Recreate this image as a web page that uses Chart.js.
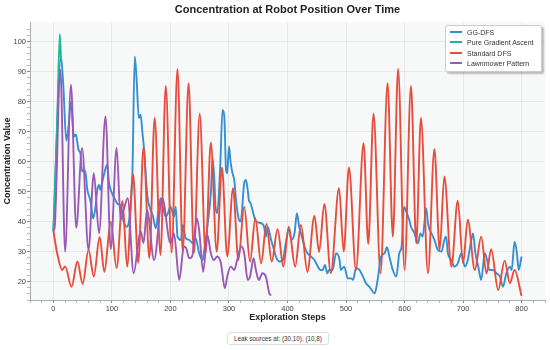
<!DOCTYPE html>
<html>
<head>
<meta charset="utf-8">
<script src="https://cdn.jsdelivr.net/npm/chart.js@4.4.0/dist/chart.umd.min.js"></script>
<style>
  html, body { margin: 0; padding: 0; background: #fff; }
  #wrap { position: relative; width: 550px; height: 350px; font-family: "Liberation Sans", Arial, sans-serif; }
  #legend {
    position: absolute; left: 445px; top: 25px; width: 95px; padding: 2px 0 2px 0;
    background: rgba(255,255,255,0.95); border: 1px solid #ccc; border-radius: 2px;
    box-shadow: 2px 2px 2px rgba(0,0,0,0.25);
  }
  .item { height: 10.3px; line-height: 10.3px; font-size: 7px; color: #333; white-space: nowrap; }
  .swatch { display: inline-block; width: 12px; height: 2px; margin: 0 5px 2px 4px; vertical-align: middle; }
  #note {
    position: absolute; left: 227px; top: 332px; width: 100px; height: 11px; line-height: 11px;
    font-size: 6.3px; color: #333; text-align: center; border: 1px solid #ddd; border-radius: 3px; background: #fff;
  }
</style>
</head>
<body>
<div id="wrap">
  <canvas id="c" width="550" height="350"></canvas>
  <div id="legend"></div>
  <div id="note">Leak sources at: (30,10), (10,8)</div>
</div>
<script>
const seriesNames = ["GG-DFS", "Pure Gradient Ascent", "Standard DFS", "Lawnmower Pattern"];
const seriesColors = ["#3590d3", "#1fb89a", "#e74c3c", "#9b59b6"];

const ggSteps = [0, 13, 17, 22, 26, 30, 35, 38, 39, 43, 46, 49, 52, 55, 58, 63, 68, 72, 75, 78, 80, 83, 87, 90, 92, 95, 100, 104, 109, 115, 120, 126, 129, 132, 135, 139, 142, 146, 149, 152, 155, 158, 161, 166, 170, 175, 179, 183, 188, 192, 196, 200, 206, 209, 212, 218, 221, 226, 232, 238, 243, 249, 255, 257, 263, 269, 272, 275, 277, 280, 285, 289, 292, 295, 297, 300, 303, 306, 309, 312, 317, 320, 326, 329, 332, 334, 337, 343, 346, 355, 360, 363, 366, 372, 377, 380, 386, 392, 397, 403, 406, 412, 416, 420, 426, 429, 434, 440, 446, 452, 456, 460, 464, 468, 471, 477, 483, 489, 491, 497, 503, 509, 512, 517, 523, 529, 534, 540, 549, 554, 560, 566, 570, 574, 580, 586, 591, 595, 599, 603, 608, 611, 617, 623, 627, 631, 637, 640, 643, 646, 651, 657, 663, 668, 671, 674, 680, 685, 691, 697, 703, 708, 714, 717, 721, 726, 731, 737, 741, 745, 751, 757, 763, 768, 774, 780, 783, 788, 792, 795, 800];
const ggValues = [37, 95, 85, 67, 72, 80, 68.4, 69, 68.7, 64, 62.9, 56.8, 57.3, 56.2, 50.7, 47.3, 41.2, 45.1, 50.7, 52.3, 50.7, 52.9, 56.2, 58.4, 59, 53, 49.6, 48, 46.2, 45.1, 40.1, 38.4, 40, 45.1, 56.2, 95.1, 88, 74.6, 75.7, 70, 64, 55, 48, 44, 42, 37.9, 43, 47.9, 44, 41.8, 43, 45.1, 41.8, 45.1, 35.1, 34, 39, 34.6, 34, 32.9, 34.6, 29.6, 27.3, 29.6, 38.4, 49.6, 61.2, 54, 45.1, 42.9, 58.4, 77.3, 75.1, 57.3, 56.2, 65.1, 59.6, 56.2, 54, 47.3, 40.7, 40.1, 52.9, 54, 50.7, 47.3, 46.2, 41.8, 40.1, 39.6, 38.4, 35.1, 38.4, 34, 30.7, 28.5, 26.8, 27.3, 32.9, 37.9, 34, 36.2, 42.9, 38.4, 34, 31.8, 29.6, 28.5, 27.3, 25.1, 24, 24, 25.7, 22.9, 24, 24, 29.6, 27.3, 24, 25.1, 21.2, 21.2, 20.7, 24.6, 24, 21.8, 19.6, 18.4, 16.2, 20.7, 28.5, 29.6, 31.6, 28.5, 24, 21.8, 29.6, 31.8, 45.1, 43.4, 40.7, 38.4, 36.2, 32.9, 36.2, 35.1, 44.6, 39.6, 37.3, 36.2, 34, 30.7, 30.1, 34, 35.1, 29.6, 27.3, 25.1, 26.2, 29.6, 25.1, 27.3, 34, 36.2, 29.6, 25.1, 20.7, 29.6, 27.3, 24, 24, 22.9, 21.8, 18.4, 22.9, 25.1, 24, 33.4, 29.6, 24, 28.5];

const pgaSteps = [0, 6, 11, 13];
const pgaValues = [37, 70, 102.5, 94];

const dfsSteps = [0, 6, 15, 20, 31, 41, 50, 60, 69, 79, 87, 98, 108, 118, 126, 136, 145, 154, 164, 173, 183, 192, 202, 212, 221, 231, 240, 250, 260, 269, 279, 288, 297, 307, 316, 326, 336, 345, 355, 364, 373, 383, 393, 402, 413, 423, 434, 446, 454, 463, 474, 488, 496, 505, 517, 530, 538, 547, 559, 571, 580, 589, 600, 611, 620, 628, 640, 651, 660, 668, 680, 691, 700, 708, 720, 731, 740, 748, 760, 771, 780, 788, 800];
const dfsValues = [37, 30, 24, 25.2, 18.4, 26.8, 19.3, 30.7, 21.8, 35, 23.4, 40, 24.6, 47, 25.1, 56, 26.5, 65, 28, 74.6, 29, 85.3, 29.8, 90.9, 30.1, 86.2, 29.6, 76, 29.6, 66.4, 30.1, 58.1, 28.5, 51.2, 27.3, 45.1, 26.8, 41.2, 26.2, 39.3, 26.8, 37.6, 25.1, 38.4, 25.1, 39, 23.4, 42, 30, 46, 22.9, 51.2, 30.1, 58.1, 24, 66.2, 32.7, 76, 22.9, 86.2, 35.1, 90.9, 24, 85.3, 32.9, 74.6, 22.9, 64.2, 30.7, 55.1, 25.1, 47.1, 26.2, 40.7, 24, 35.1, 22.9, 30.9, 17.3, 27.1, 19.6, 24, 15.3];

const lawnSteps = [0, 2, 12, 20, 30, 39, 49, 60, 69, 78, 89, 98, 108, 115, 120, 127, 137, 149, 154, 160, 172, 186, 200, 206, 215, 223, 227, 232, 237, 245, 249, 256, 263, 269, 274, 280, 286, 293, 297, 303, 309, 314, 321, 326, 332, 336, 342, 346, 351, 357, 363, 369, 372];
const lawnValues = [37, 38, 90.7, 30.1, 85.7, 38, 64.6, 30.7, 56.2, 36.2, 75.1, 31, 64.6, 40.7, 44, 47.9, 22.9, 37, 33, 44, 27.3, 47.9, 32.9, 36.2, 20.7, 31.8, 31.2, 27.9, 28.5, 41.2, 37.3, 23.4, 35.7, 29.6, 27.3, 28.5, 26.5, 17.9, 21.8, 25.1, 24, 27.3, 31.8, 29.6, 20.7, 21.8, 27.9, 24, 20.7, 22.9, 21.8, 16.2, 15.5];

const xTickStep = 20;
const yTickStep = 2;

function toPoints(steps, values) {
  return steps.map((s, i) => ({ x: s, y: values[i] }));
}

const plotBg = {
  id: "plotBg",
  beforeDraw(chart) {
    const { ctx, chartArea: a } = chart;
    ctx.save();
    ctx.fillStyle = "#f7f9f9";
    ctx.fillRect(a.left, a.top, a.right - a.left, a.bottom - a.top);
    ctx.restore();
  }
};

const allSteps = [ggSteps, pgaSteps, dfsSteps, lawnSteps];
const allValues = [ggValues, pgaValues, dfsValues, lawnValues];
const drawOrder = [3, 2, 1, 0];

const datasets = seriesNames.map((name, i) => ({
  label: name,
  data: toPoints(allSteps[i], allValues[i]),
  borderColor: seriesColors[i],
  backgroundColor: seriesColors[i],
  borderWidth: 1.9,
  pointRadius: 0,
  cubicInterpolationMode: "monotone",
  fill: false,
  order: drawOrder[i]
}));

const tickFont = { family: "Liberation Sans, Arial, sans-serif", size: 7.5 };
const titleFont = { family: "Liberation Sans, Arial, sans-serif", size: 9, weight: "bold" };

new Chart(document.getElementById("c"), {
  type: "line",
  data: { datasets },
  plugins: [plotBg],
  options: {
    responsive: false,
    animation: false,
    layout: { padding: { left: 0, right: 5, top: 0, bottom: 24 } },
    plugins: {
      legend: { display: false },
      tooltip: { enabled: false },
      title: {
        display: true,
        text: "Concentration at Robot Position Over Time",
        fullSize: false,
        color: "#222",
        font: { family: "Liberation Sans, Arial, sans-serif", size: 11, weight: "bold" },
        padding: { top: 3, bottom: 6 }
      }
    },
    scales: {
      x: {
        type: "linear",
        min: -40,
        max: 840,
        afterFit(s) { s.height = 26; },
        ticks: {
          stepSize: xTickStep,
          autoSkip: false,
          maxRotation: 0,
          padding: 1,
          color: "#444",
          font: tickFont,
          callback: (v) => (v % 100 === 0 ? String(v) : "")
        },
        grid: {
          color: (c) => (c.tick && c.tick.value % 100 === 0 ? "rgba(0,0,0,0.06)" : "transparent"),
          tickColor: "#888",
          tickLength: 3,
          tickWidth: (c) => (c.tick && c.tick.value % 100 === 0 ? 1 : 0.6)
        },
        border: { color: "#999", width: 0.8 },
        title: { display: true, text: "Exploration Steps", color: "#222", font: titleFont, padding: { top: 0, bottom: 3 } }
      },
      y: {
        type: "linear",
        min: 14,
        max: 106.5,
        afterFit(s) { s.width = 30; },
        ticks: {
          stepSize: yTickStep,
          autoSkip: false,
          padding: 1,
          color: "#444",
          font: tickFont,
          callback: (v) => (v % 10 === 0 ? String(v) : "")
        },
        grid: {
          color: (c) => (c.tick && c.tick.value % 10 === 0 ? "rgba(0,0,0,0.06)" : "transparent"),
          tickColor: (c) => (c.tick && c.tick.value % 2 === 0 ? "#888" : "transparent"),
          tickLength: 3,
          tickWidth: (c) => (c.tick && c.tick.value % 10 === 0 ? 1 : 0.6)
        },
        border: { color: "#999", width: 0.8 },
        title: { display: true, text: "Concentration Value", color: "#222", font: titleFont, padding: { top: 2, bottom: 1 } }
      }
    }
  }
});

const legend = document.getElementById("legend");
seriesNames.forEach((name, i) => {
  const row = document.createElement("div");
  row.className = "item";
  const sw = document.createElement("span");
  sw.className = "swatch";
  sw.style.background = seriesColors[i];
  row.appendChild(sw);
  row.appendChild(document.createTextNode(name));
  legend.appendChild(row);
});
</script>
</body>
</html>
